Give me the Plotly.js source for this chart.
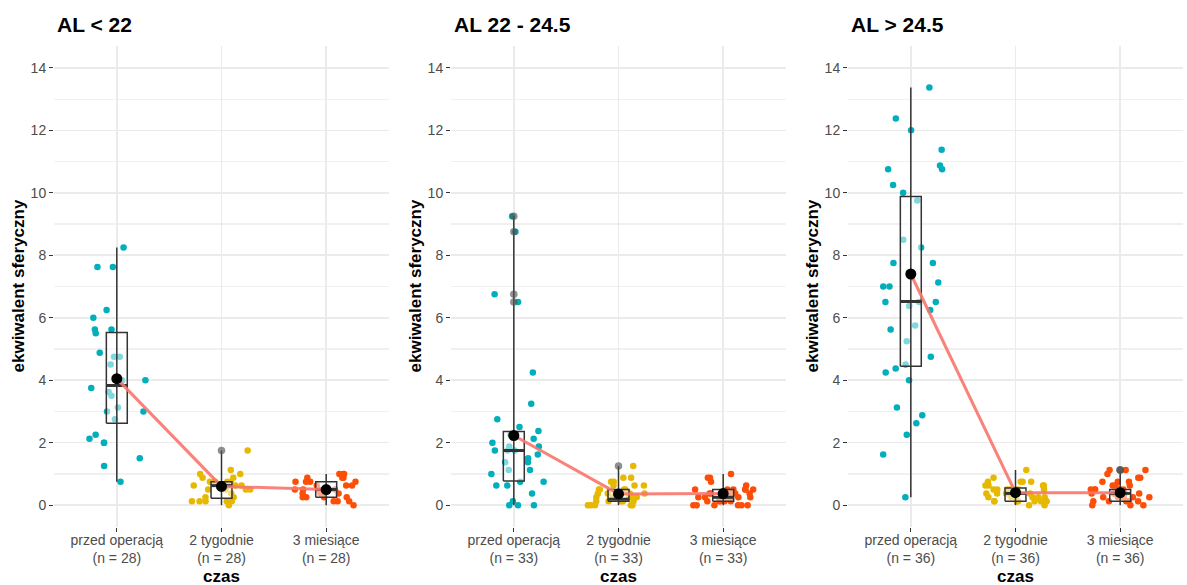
<!DOCTYPE html>
<html><head><meta charset="utf-8">
<script src="https://cdn.plot.ly/plotly-3.0.1.min.js"></script>
<style>html,body{margin:0;padding:0;background:#fff}#chart{width:1187px;height:585px}</style>
</head><body><div id="chart"></div>
<script>
// ---- categories / labels ----
const panelTitles = ['AL < 22', 'AL 22 - 24.5', 'AL > 24.5'];
const timeLabels = ['przed operacją', '2 tygodnie', '3 miesiące'];
const yTickVals = [0, 2, 4, 6, 8, 10, 12, 14];
const yTitle = 'ekwiwalent sferyczny';
const xTitle = 'czas';

// ---- AL < 22 ----
const al22_przed = [8.25, 7.625, 7.625, 6.25, 6.0, 5.625, 5.625, 5.5, 4.875, 4.75, 4.75, 4.5, 4.0, 4.0,
  3.75, 3.625, 3.5, 3.125, 3.0, 3.0, 2.75, 2.25, 2.125, 2.0, 2.0, 1.5, 1.25, 0.75];
const al22_2tyg = [1.75, 1.125, 1.0, 1.0, 0.875, 0.875, 0.75, 0.75, 0.75, 0.75, 0.75, 0.625, 0.625, 0.625, 0.625,
  0.5, 0.5, 0.5, 0.5, 0.375, 0.25, 0.25, 0.125, 0.125, 0.125, 0.125, 0.125, 0];
const al22_3mies = [1.0, 1.0, 1.0, 0.875, 0.875, 0.875, 0.75, 0.75, 0.75, 0.75, 0.625, 0.625, 0.625,
  0.5, 0.5, 0.5, 0.5, 0.375, 0.375, 0.375, 0.25, 0.25, 0.25, 0.25, 0.125, 0.125, 0.125, 0];
const al22_q1 = [2.62, 0.22, 0.25];
const al22_median = [3.83, 0.625, 0.5];
const al22_q3 = [5.53, 0.75, 0.75];
const al22_mean = [4.05, 0.6, 0.5];

// ---- AL 22 - 24.5 ----
const al2224_przed = [9.25, 8.75, 6.75, 6.5, 4.25, 3.25, 2.75, 2.5, 2.375, 2.25, 2.125, 2.0, 1.875, 1.875,
  1.75, 1.75, 1.75, 1.625, 1.5, 1.375, 1.375, 1.125, 1.125, 1.0, 0.75, 0.75, 0.625, 0.625, 0.375, 0.125, 0, 0, 0];
const al2224_2tyg = [1.25, 0.875, 0.875, 0.75, 0.75, 0.625, 0.625, 0.625, 0.5, 0.5, 0.5, 0.5,
  0.375, 0.375, 0.375, 0.375, 0.25, 0.25, 0.25, 0.25, 0.25, 0.25, 0.25,
  0.125, 0.125, 0.125, 0.125, 0.125, 0, 0, 0, 0, 0];
const al2224_3mies = [1.0, 0.875, 0.875, 0.75, 0.625, 0.5, 0.5, 0.5, 0.5, 0.5, 0.5,
  0.375, 0.375, 0.375, 0.375, 0.375, 0.25, 0.25, 0.25, 0.25, 0.25, 0.25,
  0.125, 0.125, 0.125, 0.125, 0.125, 0, 0, 0, 0, 0, 0];
const al2224_q1 = [0.77, 0.125, 0.125];
const al2224_median = [1.75, 0.19, 0.25];
const al2224_q3 = [2.36, 0.5, 0.5];
const al2224_mean = [2.23, 0.36, 0.37];

// ---- AL > 24.5 ----
const al245_przed = [13.375, 12.375, 12.0, 11.375, 10.875, 10.75, 10.75, 10.25, 10.0, 9.75, 8.5, 8.25,
  7.75, 7.75, 7.125, 7.0, 7.0, 6.5, 6.5, 6.5, 6.375, 6.25, 5.75, 5.625, 5.25, 4.75, 4.5, 4.375, 4.25, 4.0,
  3.125, 2.875, 2.625, 2.25, 1.625, 0.25];
const al245_2tyg = [1.125, 0.875, 0.75, 0.75, 0.75, 0.75, 0.625, 0.625, 0.625, 0.625,
  0.5, 0.5, 0.5, 0.5, 0.5, 0.5, 0.375, 0.375, 0.375, 0.375, 0.375, 0.375,
  0.25, 0.25, 0.25, 0.25, 0.25, 0.125, 0.125, 0.125, 0.125, 0.125, 0.125, 0.125, 0, 0];
const al245_3mies = [1.125, 1.125, 1.125, 1.0, 0.875, 0.875, 0.75, 0.75, 0.75, 0.625, 0.625, 0.625,
  0.5, 0.5, 0.5, 0.5, 0.5, 0.375, 0.375, 0.375, 0.375, 0.375, 0.375,
  0.25, 0.25, 0.25, 0.25, 0.25, 0.125, 0.125, 0.125, 0.125, 0.125, 0, 0, 0];
const al245_q1 = [4.45, 0.125, 0.125];
const al245_median = [6.52, 0.375, 0.375];
const al245_q3 = [9.88, 0.55, 0.5];
const al245_mean = [7.4, 0.4, 0.4];

// ---- assemble (built from the arrays above) ----
const panels = [
  {title: panelTitles[0], data: [al22_przed, al22_2tyg, al22_3mies], q1: al22_q1, med: al22_median, q3: al22_q3, mean: al22_mean},
  {title: panelTitles[1], data: [al2224_przed, al2224_2tyg, al2224_3mies], q1: al2224_q1, med: al2224_median, q3: al2224_q3, mean: al2224_mean},
  {title: panelTitles[2], data: [al245_przed, al245_2tyg, al245_3mies], q1: al245_q1, med: al245_median, q3: al245_q3, mean: al245_mean}
];

// styles
const W = 1187, H = 585;
const groupColors = ['#00AFBB', '#E7B800', '#FC4E07'];
const boxHalf = 0.1;
const jitterWidth = 0.3;
const xDomPx = [[54, 389], [451, 786], [848, 1183]];
const yDom = [1 - 527 / H, 1 - 46 / H];
const FONT = 'Liberation Sans, Arial, sans-serif';

// deterministic jitter (like geom_jitter, but seeded)
function mulberry32(a) { return function () { a |= 0; a = a + 0x6D2B79F5 | 0; let t = Math.imul(a ^ a >>> 15, 1 | a); t = t + Math.imul(t ^ t >>> 7, 61 | t) ^ t; return ((t ^ t >>> 14) >>> 0) / 4294967296; }; }
const rng = mulberry32(1234567);

const traces = [];
const layout = {
  width: W, height: H,
  margin: {l: 0, r: 0, t: 0, b: 0},
  paper_bgcolor: '#ffffff', plot_bgcolor: '#ffffff',
  showlegend: false,
  font: {family: FONT},
  annotations: []
};

panels.forEach((p, pi) => {
  const sfx = pi === 0 ? '' : String(pi + 1);
  const xa = 'x' + sfx, ya = 'y' + sfx;
  const dom = [xDomPx[pi][0] / W, xDomPx[pi][1] / W];

  layout['xaxis' + sfx] = {
    domain: dom, anchor: ya, range: [0.4, 3.6],
    tickmode: 'array', tickvals: [1, 2, 3],
    ticktext: timeLabels.map((t, i) => t + '<br>(n = ' + p.data[i].length + ')'),
    showgrid: true, gridcolor: '#EBEBEB', gridwidth: 1.6,
    zeroline: false, showline: false,
    ticks: 'outside', ticklen: 4, tickwidth: 1, tickcolor: '#333333',
    ticklabelstandoff: -4,
    tickfont: {family: FONT, size: 14, color: '#4D4D4D'},
    fixedrange: true
  };
  layout['yaxis' + sfx] = {
    domain: yDom, anchor: xa, range: [-0.7, 14.7],
    tickmode: 'array', tickvals: yTickVals,
    showgrid: true, gridcolor: '#EBEBEB', gridwidth: 1.6,
    minor: {tickmode: 'array', tickvals: yTickVals.map(v => v + 1).filter(v => v < 14.7), showgrid: true, gridcolor: '#F0F0F0', gridwidth: 1.2, ticks: ''},
    zeroline: false, showline: false,
    ticks: 'outside', ticklen: 4, tickwidth: 1, tickcolor: '#333333',
    tickfont: {family: FONT, size: 14, color: '#4D4D4D'},
    fixedrange: true
  };

  // jittered points
  p.data.forEach((vals, g) => {
    traces.push({
      type: 'scatter', mode: 'markers', xaxis: xa, yaxis: ya,
      x: vals.map(() => g + 1 + (rng() * 2 - 1) * jitterWidth),
      y: vals,
      marker: {size: 6.5, color: groupColors[g], line: {width: 0}},
      hoverinfo: 'y'
    });
  });

  // boxes (semi-transparent white fill over points)
  const bx = [], by = [];
  p.data.forEach((vals, g) => {
    const c = g + 1;
    bx.push(c - boxHalf, c + boxHalf, c + boxHalf, c - boxHalf, c - boxHalf, null);
    by.push(p.q1[g], p.q1[g], p.q3[g], p.q3[g], p.q1[g], null);
  });
  traces.push({
    type: 'scatter', mode: 'lines', xaxis: xa, yaxis: ya, x: bx, y: by,
    fill: 'toself', fillcolor: 'rgba(255,255,255,0.5)',
    line: {color: '#333333', width: 1.5}, hoverinfo: 'skip'
  });

  // range line (min to max)
  const rx = [], ry = [];
  p.data.forEach((vals, g) => {
    rx.push(g + 1, g + 1, null);
    ry.push(Math.min(...vals), Math.max(...vals), null);
  });
  traces.push({type: 'scatter', mode: 'lines', xaxis: xa, yaxis: ya, x: rx, y: ry,
    line: {color: '#333333', width: 1.5}, hoverinfo: 'skip'});

  // medians
  const mx = [], my = [];
  p.data.forEach((vals, g) => {
    mx.push(g + 1 - boxHalf, g + 1 + boxHalf, null);
    my.push(p.med[g], p.med[g], null);
  });
  traces.push({type: 'scatter', mode: 'lines', xaxis: xa, yaxis: ya, x: mx, y: my,
    line: {color: '#333333', width: 3}, hoverinfo: 'skip'});

  // outliers (beyond 1.5 IQR)
  const ox = [], oy = [];
  p.data.forEach((vals, g) => {
    const iqr = p.q3[g] - p.q1[g];
    vals.forEach(v => {
      if (v > p.q3[g] + 1.5 * iqr || v < p.q1[g] - 1.5 * iqr) { ox.push(g + 1); oy.push(v); }
    });
  });
  traces.push({type: 'scatter', mode: 'markers', xaxis: xa, yaxis: ya, x: ox, y: oy,
    marker: {size: 7.5, color: 'rgba(85,85,85,0.65)'}, hoverinfo: 'y'});

  // mean line and mean points
  traces.push({type: 'scatter', mode: 'lines', xaxis: xa, yaxis: ya, x: [1, 2, 3], y: p.mean,
    line: {color: 'rgba(248,118,109,0.9)', width: 3}, hoverinfo: 'skip'});
  traces.push({type: 'scatter', mode: 'markers', xaxis: xa, yaxis: ya, x: [1, 2, 3], y: p.mean,
    marker: {size: 11, color: '#000000'}, hoverinfo: 'y'});

  // titles
  layout.annotations.push({
    xref: 'paper', yref: 'paper', x: (xDomPx[pi][0] + 1) / W, y: 1 - 25 / H,
    xanchor: 'left', yanchor: 'middle', showarrow: false,
    text: '<b>' + p.title + '</b>', font: {family: FONT, size: 21, color: '#000000'}
  });
  layout.annotations.push({
    xref: 'paper', yref: 'paper', x: (xDomPx[pi][0] - 36) / W, y: 1 - 286.5 / H,
    xanchor: 'center', yanchor: 'middle', showarrow: false, textangle: -90,
    text: '<b>' + yTitle + '</b>', font: {family: FONT, size: 17, color: '#000000'}
  });
  layout.annotations.push({
    xref: 'paper', yref: 'paper', x: (xDomPx[pi][0] + xDomPx[pi][1]) / 2 / W, y: 1 - 576 / H,
    xanchor: 'center', yanchor: 'middle', showarrow: false,
    text: '<b>' + xTitle + '</b>', font: {family: FONT, size: 17, color: '#000000'}
  });
});

Plotly.newPlot('chart', traces, layout, {displayModeBar: false, staticPlot: true});
</script>
</body></html>
